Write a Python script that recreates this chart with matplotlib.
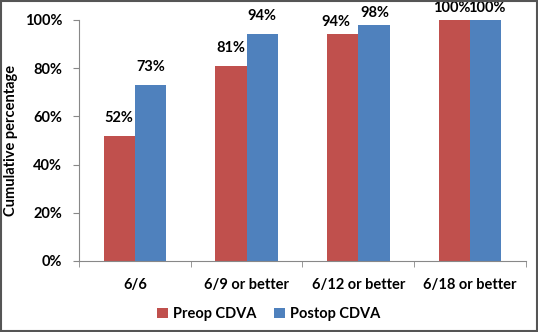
import matplotlib.pyplot as plt
from matplotlib.patches import Rectangle
from matplotlib.ticker import FuncFormatter
import numpy as np

# dados do gráfico
categorias = ["6/6", "6/9 or better", "6/12 or better", "6/18 or better"]
preop = [0.52, 0.81, 0.94, 1.00]
postop = [0.73, 0.94, 0.98, 1.00]
series_labels = ["Preop CDVA", "Postop CDVA"]

cor_preop = "#C0504D"
cor_postop = "#4F81BD"

plt.rcParams['font.family'] = ['Lato', 'DejaVu Sans']
plt.rcParams['font.weight'] = 'bold'

fig = plt.figure(figsize=(5.38, 3.32), dpi=100)
ax = fig.add_axes([0.1468, 0.2139, 0.8309, 0.7259])

x = np.arange(len(categorias))
w = 0.28
b1 = ax.bar(x - w / 2, preop, w, color=cor_preop, label=series_labels[0])
b2 = ax.bar(x + w / 2, postop, w, color=cor_postop, label=series_labels[1])

# rótulos em cima das barras
for barras, vals, lado in [(b1, preop, -1), (b2, postop, 1)]:
    for i, (r, v) in enumerate(zip(barras, vals)):
        # nos grupos mais altos o rótulo fica mais baixo e afastado do vizinho
        if i >= 2:
            dx = -7 if lado < 0 and v < 1 else (-3 if lado < 0 else 1)
            off = (dx, 5)
        else:
            off = (0, 11)
        ax.annotate(f"{v * 100:.0f}%", (r.get_x() + r.get_width() / 2, v),
                    xytext=off, textcoords="offset pixels",
                    ha="center", va="bottom", fontsize=10.5, fontweight="bold",
                    annotation_clip=False)

ax.set_ylim(0, 1)
ax.set_xlim(-0.5, len(categorias) - 0.5)
ax.set_yticks(np.arange(0, 1.01, 0.2))
ax.yaxis.set_major_formatter(FuncFormatter(lambda v, p: f"{v * 100:.0f}%"))
ax.set_xticks(x)
ax.set_xticklabels(categorias)
ax.set_xticks(np.arange(-0.5, len(categorias), 1), minor=True)
ax.tick_params(axis="x", which="major", length=0, pad=12, labelsize=10.5)
ax.tick_params(axis="x", which="minor", length=4, color="#888888")
ax.tick_params(axis="y", length=4, color="#888888", pad=8, labelsize=10.5)

for s in ["top", "right"]:
    ax.spines[s].set_visible(False)
for s in ["left", "bottom"]:
    ax.spines[s].set_color("#888888")

ax.set_ylabel("Cumulative percentage", fontsize=10.5, fontweight="bold")
ax.yaxis.set_label_coords(-0.136, 0.5)

fig.legend(handles=[b1, b2], labels=series_labels, loc="center",
           bbox_to_anchor=(0.5, 0.054), ncol=2, frameon=False, fontsize=10.5,
           handlelength=0.7, handleheight=0.7, handletextpad=0.4, columnspacing=1.2)

# moldura da figura
fig.patches.append(Rectangle((0.002, 0.003), 0.996, 0.994, transform=fig.transFigure,
                             fill=False, edgecolor="#555555", linewidth=1.5))

fig.savefig("out.png", dpi=100)
